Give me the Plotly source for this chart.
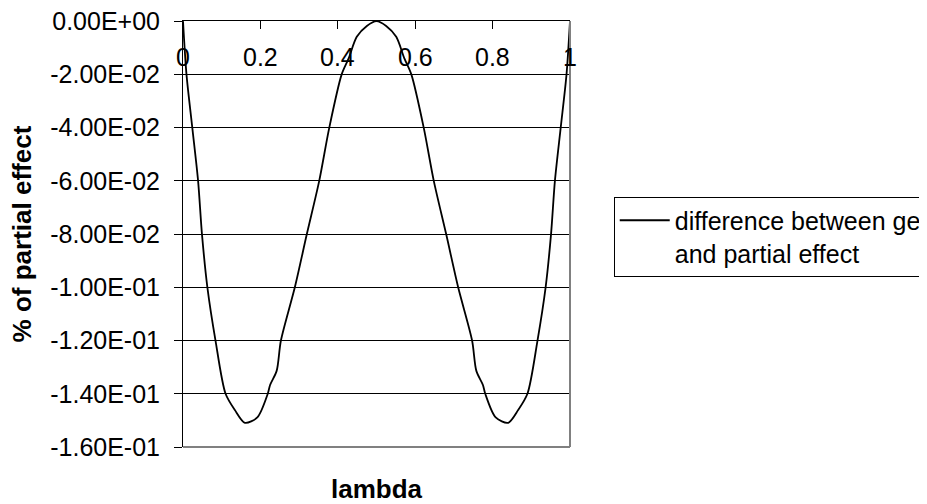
import plotly.graph_objects as go

# values
lam = [0.0, 0.009, 0.024, 0.039, 0.049, 0.063, 0.084, 0.110, 0.134, 0.160,
       0.192, 0.219, 0.225, 0.242, 0.253, 0.289, 0.320, 0.352, 0.378, 0.410,
       0.428, 0.449, 0.475, 0.500,
       0.525, 0.551, 0.572, 0.590, 0.622, 0.648, 0.680, 0.711, 0.747, 0.758,
       0.775, 0.781, 0.808, 0.840, 0.866, 0.890, 0.916, 0.937, 0.951, 0.961,
       0.976, 0.991, 1.0]
diff = [0.0, -0.020, -0.040, -0.060, -0.080, -0.100, -0.120, -0.140, -0.1461, -0.1509,
        -0.1489, -0.140, -0.1367, -0.1314, -0.120, -0.100, -0.080, -0.060, -0.040, -0.020,
        -0.014, -0.0059, -0.0018, 0.0,
        -0.0018, -0.0059, -0.014, -0.020, -0.040, -0.060, -0.080, -0.100, -0.120, -0.1314,
        -0.1367, -0.140, -0.1489, -0.1509, -0.1461, -0.140, -0.120, -0.100, -0.080, -0.060,
        -0.040, -0.020, 0.0]

y_ticks = [0.0, -0.02, -0.04, -0.06, -0.08, -0.10, -0.12, -0.14, -0.16]
y_labels = ["0.00E+00", "-2.00E-02", "-4.00E-02", "-6.00E-02", "-8.00E-02",
            "-1.00E-01", "-1.20E-01", "-1.40E-01", "-1.60E-01"]
x_ticks = [0, 0.2, 0.4, 0.6, 0.8, 1]
x_labels = ["0", "0.2", "0.4", "0.6", "0.8", "1"]

FONT = "Liberation Sans, Arial, sans-serif"

fig = go.Figure()
fig.add_trace(go.Scatter(
    x=lam, y=diff, mode="lines",
    name="difference between general<br>and partial effect",
    line=dict(color="black", width=1.8, shape="spline", smoothing=0.8),
))

# x tick numbers sit just under the top axis line, inside the plot (Excel style)
annotations = [
    dict(text=t, x=v, xref="x", yref="paper", y=0.9155, xanchor="center",
         yanchor="middle", showarrow=False, font=dict(size=25, color="black"))
    for v, t in zip(x_ticks, x_labels)
]
annotations += [
    dict(text="<b>lambda</b>", xref="paper", yref="paper", x=0.5, y=-0.099,
         xanchor="center", yanchor="middle", showarrow=False, font=dict(size=26)),
    dict(text="<b>% of partial effect</b>", xref="paper", yref="paper",
         x=-0.415, y=0.5, textangle=-90, xanchor="center", yanchor="middle",
         showarrow=False, font=dict(size=26)),
]

# page body has an 8px margin, so the margins are shifted to compensate
fig.update_layout(
    width=927, height=504,
    plot_bgcolor="white", paper_bgcolor="white",
    font=dict(family=FONT, size=25, color="black"),
    margin=dict(l=175, r=365, t=13, b=65, autoexpand=False),
    showlegend=True,
    legend=dict(
        x=1.113, y=0.588, xanchor="left", yanchor="top",
        bordercolor="black", borderwidth=1, bgcolor="white",
        font=dict(size=25), valign="top", itemwidth=50,
    ),
    xaxis=dict(
        range=[0, 1], side="top", tickvals=x_ticks,
        ticks="inside", ticklen=8, tickcolor="black", showticklabels=False,
        showline=True, linecolor="black", linewidth=1,
        showgrid=False, zeroline=False,
    ),
    yaxis=dict(
        range=[-0.16, 0.00005], tickvals=y_ticks, ticktext=y_labels,
        ticks="outside", ticklen=8, tickcolor="black", ticklabelstandoff=9,
        ticklabeloverflow="allow",
        showline=True, linecolor="black", linewidth=1,
        showgrid=True, gridcolor="black", gridwidth=1, zeroline=False,
    ),
    shapes=[
        dict(type="line", xref="paper", yref="paper", x0=0, x1=1, y0=0, y1=0,
             line=dict(color="#808080", width=2), layer="above"),
        dict(type="line", xref="paper", yref="paper", x0=1, x1=1, y0=0, y1=1,
             line=dict(color="#808080", width=2), layer="above"),
    ],
    annotations=annotations,
)

fig.write_html("out.html")
